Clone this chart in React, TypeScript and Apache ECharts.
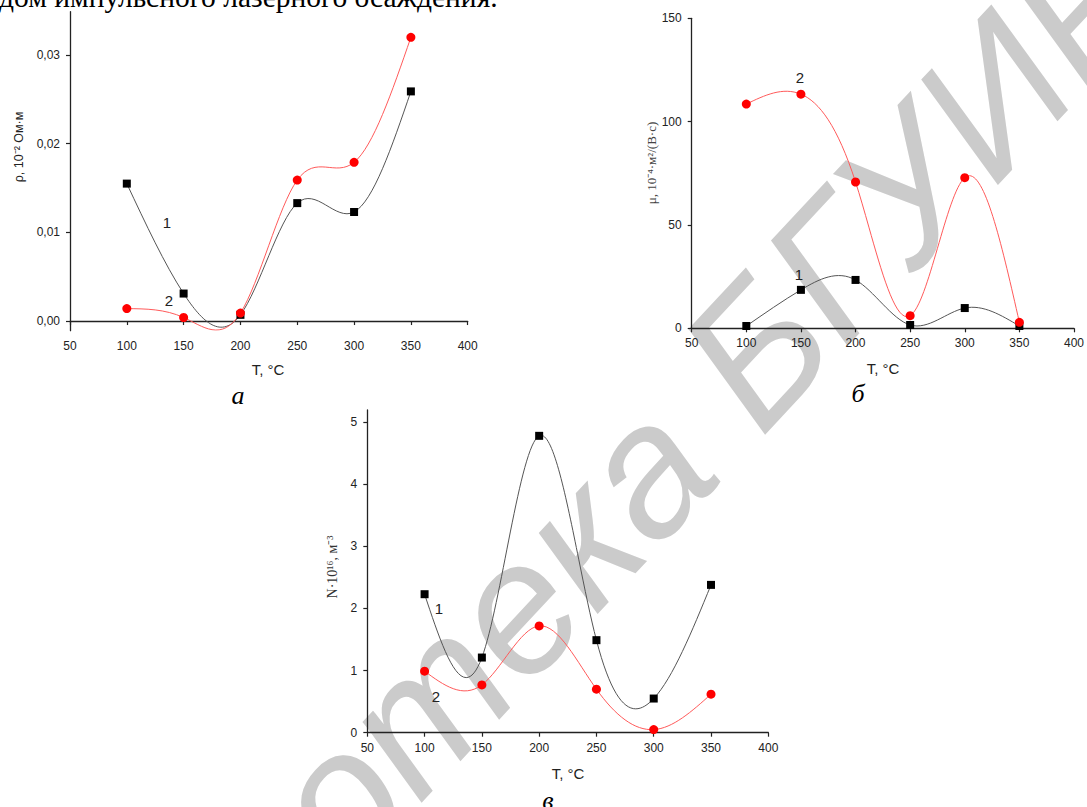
import React, { useEffect, useRef } from "react";
import * as echarts from "echarts";

const T = [100, 150, 200, 250, 300, 350];
// (a) resistivity, 10^-2 Ohm·m
const rho1 = [0.0155, 0.0031, 0.0007, 0.0133, 0.0123, 0.0259];
const rho2 = [0.0014, 0.0004, 0.0009, 0.0159, 0.0179, 0.032];
// (б) mobility
const mu1 = [1.1, 18.6, 23.4, 1.6, 9.8, 1.1];
const mu2 = [108.5, 113.3, 70.8, 6.1, 72.9, 2.9];
// (в) concentration
const n1 = [2.23, 1.21, 4.78, 1.49, 0.55, 2.38];
const n2 = [0.99, 0.77, 1.72, 0.7, 0.05, 0.62];

const xTicks = [50, 100, 150, 200, 250, 300, 350, 400];
const rhoTicks = [0, 0.01, 0.02, 0.03];
const muTicks = [0, 50, 100, 150];
const nTicks = [0, 1, 2, 3, 4, 5];

const SANS = '"Liberation Sans", Arial, sans-serif';
const SERIF = '"Liberation Serif", "Times New Roman", serif';

// natural cubic spline -> cubic Bezier segments (in data space)
function splineSegments(xs: number[], ys: number[]) {
  const n = xs.length;
  const h: number[] = [];
  for (let i = 0; i < n - 1; i++) h.push(xs[i + 1] - xs[i]);
  const M = new Array(n).fill(0);
  const m = n - 2;
  if (m > 0) {
    const a: number[] = [], b: number[] = [], c: number[] = [], d: number[] = [];
    for (let i = 1; i <= m; i++) {
      a.push(h[i - 1]);
      b.push(2 * (h[i - 1] + h[i]));
      c.push(h[i]);
      d.push(6 * ((ys[i + 1] - ys[i]) / h[i] - (ys[i] - ys[i - 1]) / h[i - 1]));
    }
    for (let i = 1; i < m; i++) {
      const w = a[i] / b[i - 1];
      b[i] -= w * c[i - 1];
      d[i] -= w * d[i - 1];
    }
    const sol = new Array(m).fill(0);
    sol[m - 1] = d[m - 1] / b[m - 1];
    for (let i = m - 2; i >= 0; i--) sol[i] = (d[i] - c[i] * sol[i + 1]) / b[i];
    for (let i = 0; i < m; i++) M[i + 1] = sol[i];
  }
  const segs: number[][][] = [];
  for (let i = 0; i < n - 1; i++) {
    const hh = h[i];
    const s = (ys[i + 1] - ys[i]) / hh;
    const d0 = s - (hh * (2 * M[i] + M[i + 1])) / 6;
    const d1 = s + (hh * (M[i] + 2 * M[i + 1])) / 6;
    segs.push([
      [xs[i], ys[i]],
      [xs[i] + hh / 3, ys[i] + (d0 * hh) / 3],
      [xs[i + 1] - hh / 3, ys[i + 1] - (d1 * hh) / 3],
      [xs[i + 1], ys[i + 1]],
    ]);
  }
  return segs;
}

function txt(x: number, y: number, text: string, font: string, fill = "#222", rotation = 0, z = 5) {
  return {
    type: "text",
    x,
    y,
    rotation,
    z,
    silent: true,
    style: {
      text,
      font,
      fill,
      textAlign: "center",
      textVerticalAlign: "middle",
      align: "center",
      verticalAlign: "middle",
    },
  };
}

export default function App() {
  const ref = useRef<HTMLDivElement>(null);
  useEffect(() => {
    if (!ref.current) return;
    const chart = echarts.init(ref.current, undefined, { renderer: "svg" });
    const axisLine = { lineStyle: { color: "#222", width: 1.3 } };
    const axisTick = { length: 4, lineStyle: { color: "#222", width: 1.2 } };
    const lab = { fontFamily: SANS, fontSize: 12, color: "#222" };
    const xAxis = [0, 1, 2].map((i) => ({
      type: "value",
      gridIndex: i,
      min: 50,
      max: 400,
      interval: 50,
      axisLine,
      axisTick: { ...axisTick, customValues: xTicks },
      axisLabel: { ...lab, margin: 9, customValues: xTicks },
      splitLine: { show: false },
    }));
    const yAxis = [
      {
        type: "value",
        gridIndex: 0,
        min: -0.00109,
        max: 0.03489,
        axisLine: { ...axisLine, onZero: false },
        axisTick: { ...axisTick, customValues: rhoTicks },
        axisLabel: {
          ...lab,
          margin: 10,
          customValues: rhoTicks,
          formatter: (v: number) => v.toFixed(2).replace(".", ","),
        },
        splitLine: { show: false },
      },
      {
        type: "value",
        gridIndex: 1,
        min: 0,
        max: 150,
        axisLine: { ...axisLine, onZero: false },
        axisTick: { ...axisTick, customValues: muTicks },
        axisLabel: { ...lab, margin: 10, customValues: muTicks },
        splitLine: { show: false },
      },
      {
        type: "value",
        gridIndex: 2,
        min: 0,
        max: 5.196,
        axisLine: { ...axisLine, onZero: false },
        axisTick: { ...axisTick, customValues: nTicks },
        axisLabel: { ...lab, margin: 10, customValues: nTicks },
        splitLine: { show: false },
      },
    ];
    const curve = (vals: number[], idx: number, red: boolean) => ({
      type: "custom",
      coordinateSystem: "cartesian2d",
      xAxisIndex: idx,
      yAxisIndex: idx,
      data: T.map((t, i) => [t, vals[i]]),
      silent: true,
      clip: true,
      z: 2,
      renderItem: (params: any, api: any) => {
        if (params.dataIndex !== 0) return null;
        const segs = splineSegments(T, vals);
        let d = "";
        segs.forEach((s, k) => {
          const p = s.map((pt) => api.coord(pt));
          if (k === 0) d += `M${p[0][0]} ${p[0][1]}`;
          d += ` C${p[1][0]} ${p[1][1]} ${p[2][0]} ${p[2][1]} ${p[3][0]} ${p[3][1]}`;
        });
        return {
          type: "path",
          shape: { pathData: d },
          style: { fill: "none", stroke: red ? "#ff5a5a" : "#555555", lineWidth: 1 },
        };
      },
    });
    const pts = (vals: number[], idx: number, red: boolean) => ({
      type: "scatter",
      xAxisIndex: idx,
      yAxisIndex: idx,
      data: T.map((t, i) => [t, vals[i]]),
      symbol: red ? "circle" : "rect",
      symbolSize: red ? 9 : 8,
      itemStyle: { color: red ? "#ff0000" : "#000000", opacity: 1 },
      z: red ? 4 : 3,
    });
    const option = {
      animation: false,
      backgroundColor: "#ffffff",
      grid: [
        { left: 70, top: 11.7, width: 397.7, height: 319 },
        { left: 691.7, top: 18.3, width: 384, height: 310 },
        { left: 367.3, top: 410, width: 401, height: 322.7 },
      ],
      xAxis,
      yAxis,
      series: [
        curve(rho1, 0, false),
        curve(rho2, 0, true),
        pts(rho1, 0, false),
        pts(rho2, 0, true),
        curve(mu1, 1, false),
        curve(mu2, 1, true),
        pts(mu1, 1, false),
        pts(mu2, 1, true),
        curve(n1, 2, false),
        curve(n2, 2, true),
        pts(n1, 2, false),
        pts(n2, 2, true),
      ],
      graphic: [
        txt(530, 592, "Библиотека БГУИР", 'italic 186px "Liberation Sans", Arial, sans-serif', "#cbcbcb", (47 * Math.PI) / 180, -1),
        {
          type: "text",
          x: -1,
          y: -3,
          z: 5,
          silent: true,
          style: {
            text: "дом импульсного лазерного осаждения.",
            font: `29.5px ${SERIF}`,
            fill: "#000",
            textAlign: "left",
            textVerticalAlign: "middle",
            align: "left",
            verticalAlign: "middle",
          },
        },
        // axis names
        txt(19, 147, "ρ, 10⁻² Ом·м", `12.5px ${SANS}`, "#222", Math.PI / 2),
        txt(651, 163, "μ, 10⁻⁴·м²/(В·с)", `13px ${SERIF}`, "#444", Math.PI / 2),
        txt(332.5, 567, "N·10¹⁶, м⁻³", `14px ${SERIF}`, "#333", Math.PI / 2),
        txt(268, 369, "T, °C", `15px ${SANS}`),
        txt(883, 368, "T, °C", `15px ${SANS}`),
        txt(568, 773, "T, °C", `15px ${SANS}`),
        // curve numbers
        txt(167, 222, "1", `15px ${SANS}`),
        txt(169, 300, "2", `15px ${SANS}`),
        txt(800, 77, "2", `15px ${SANS}`),
        txt(799, 274, "1", `15px ${SANS}`),
        txt(439, 608, "1", `15px ${SANS}`),
        txt(436, 696, "2", `15px ${SANS}`),
        // captions
        txt(238, 395, "а", `italic 26px ${SERIF}`, "#000"),
        txt(858, 393, "б", `italic 26px ${SERIF}`, "#000"),
        txt(548, 800, "в", `italic 26px ${SERIF}`, "#000"),
      ],
    };
    chart.setOption(option as any);
    return () => chart.dispose();
  }, []);
  return (
    <div
      ref={ref}
      style={{ position: "fixed", left: 0, top: 0, width: 1087, height: 807 }}
    />
  );
}
